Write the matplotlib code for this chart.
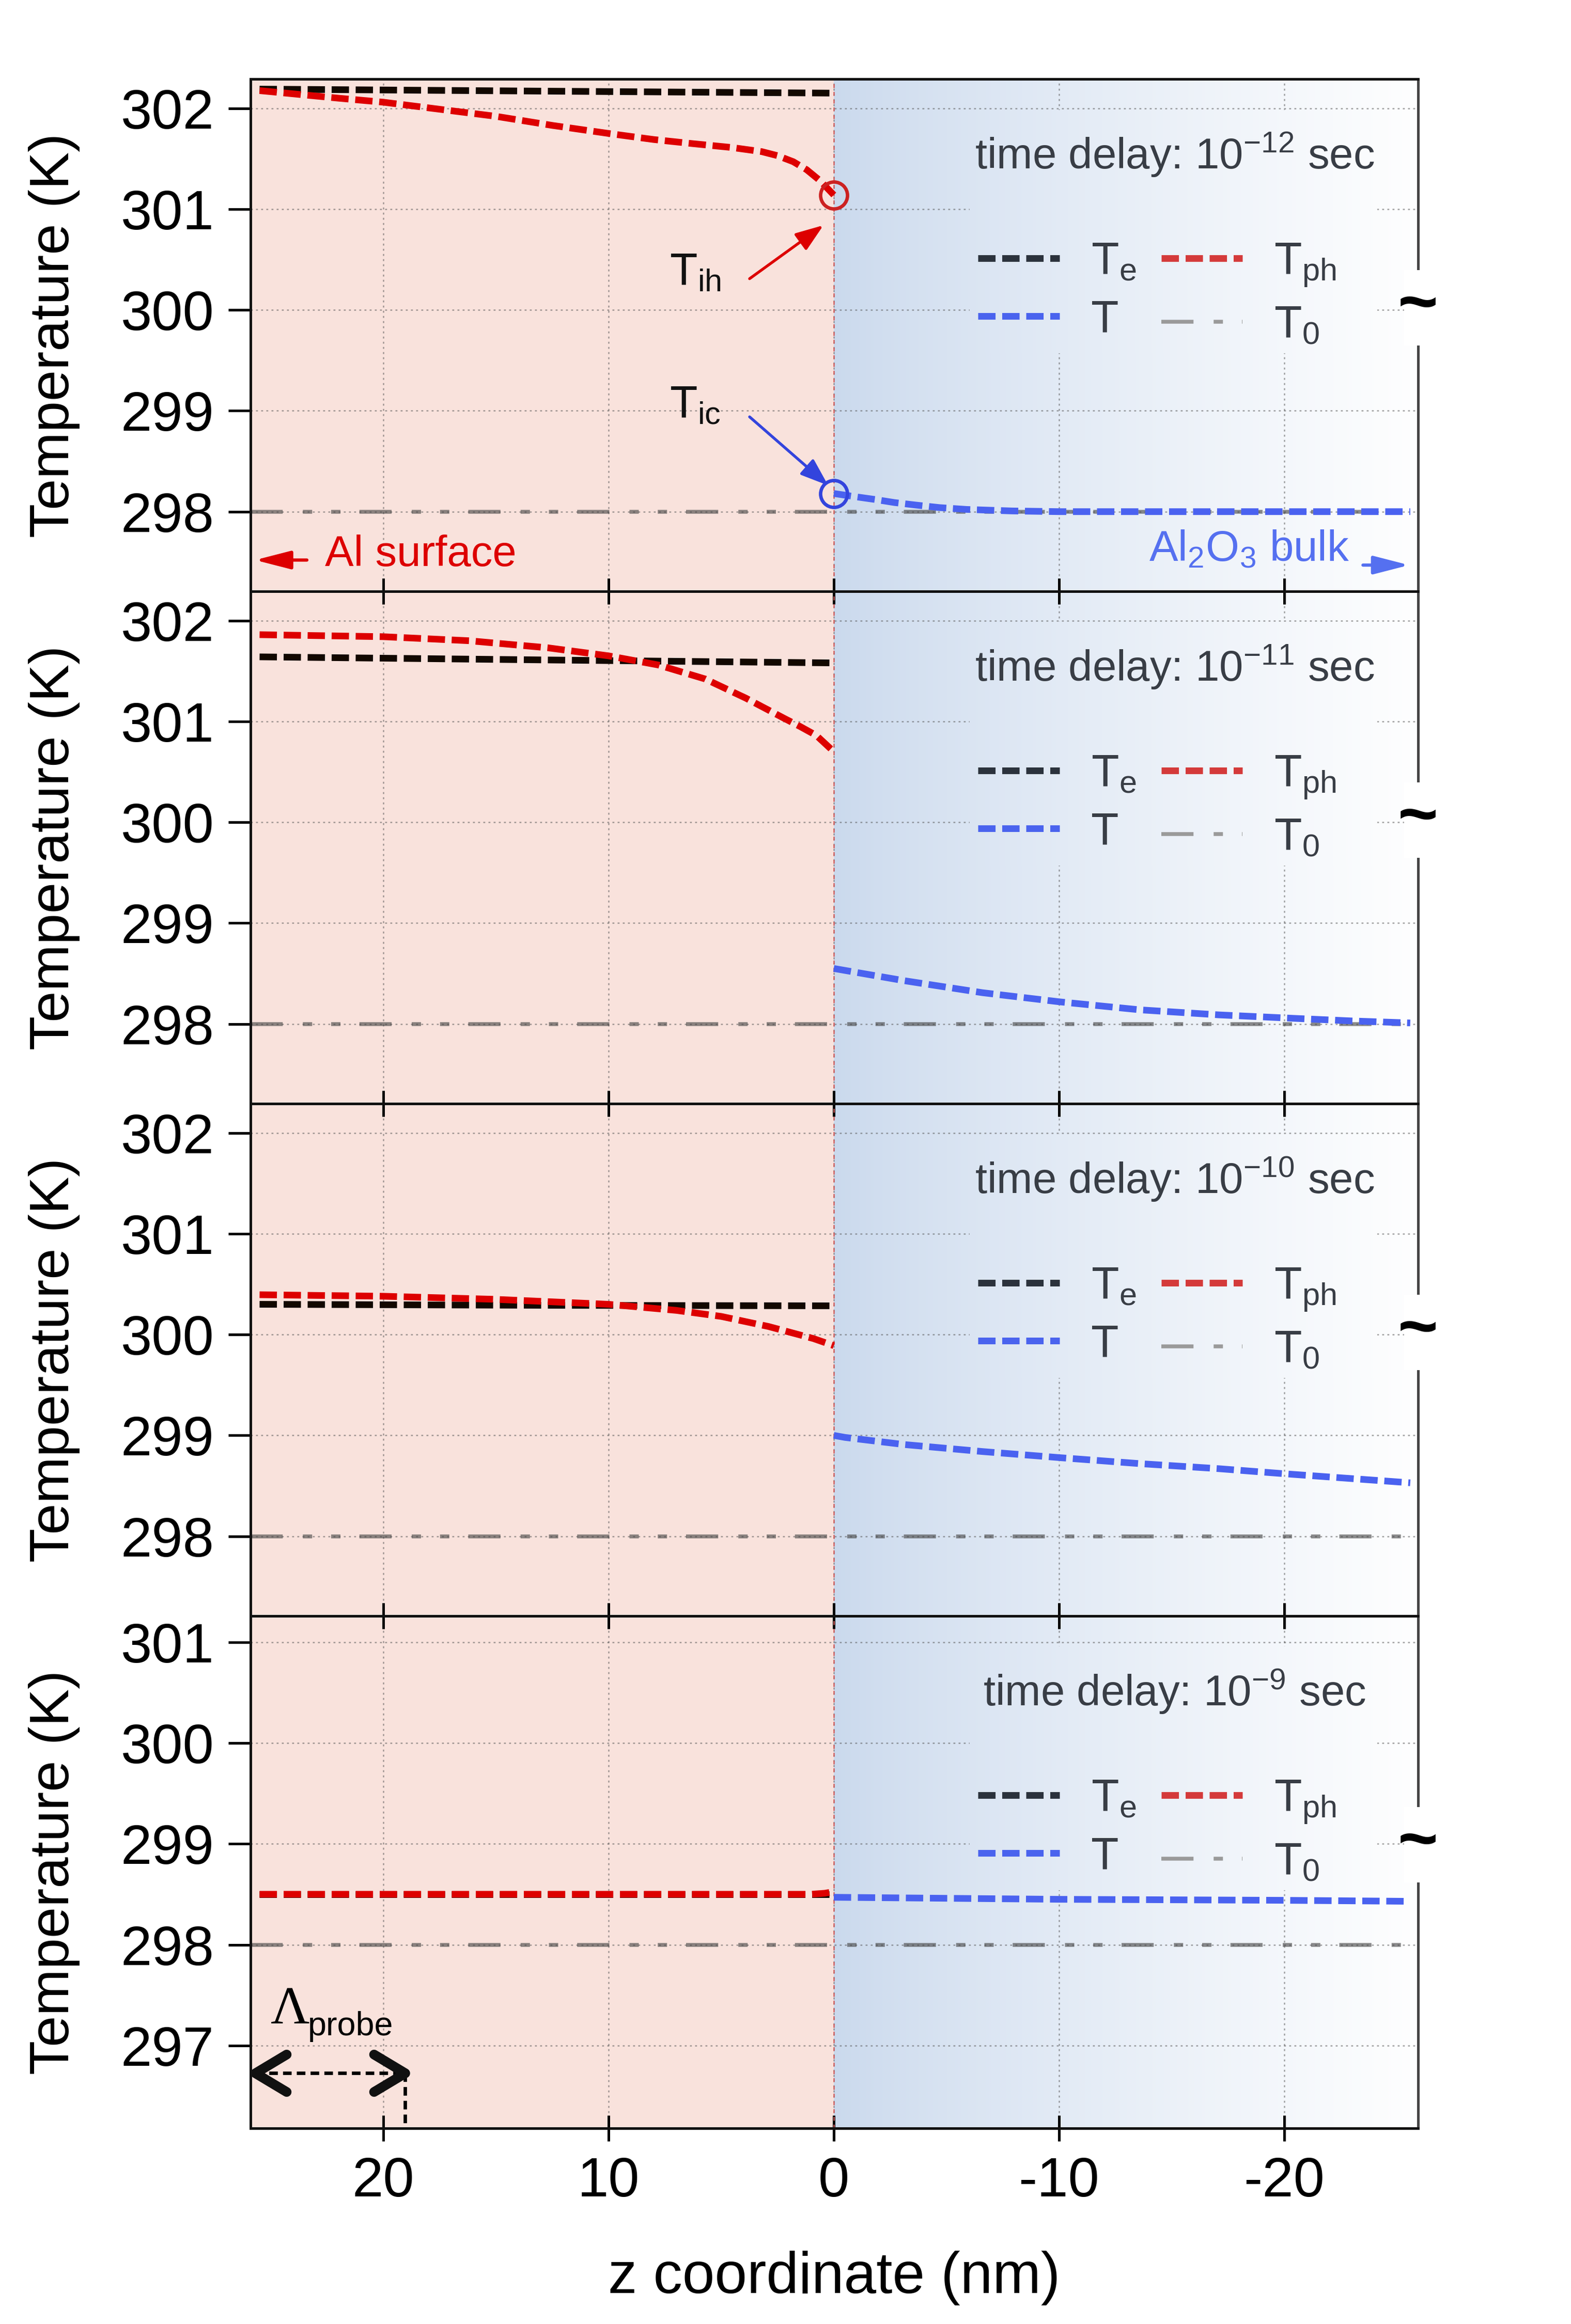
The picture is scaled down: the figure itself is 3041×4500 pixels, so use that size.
import numpy as np
import matplotlib
matplotlib.use("Agg")
import matplotlib.pyplot as plt
from matplotlib.lines import Line2D
from matplotlib.markers import MarkerStyle
from matplotlib.patches import Rectangle
from matplotlib.path import Path
from matplotlib.colors import to_rgb

plt.rcParams["font.family"] = ["Liberation Sans", "DejaVu Sans"]
plt.rcParams["mathtext.fontset"] = "custom"
plt.rcParams["mathtext.rm"] = "Liberation Sans"
plt.rcParams["mathtext.it"] = "Liberation Sans:italic"
plt.rcParams["mathtext.bf"] = "Liberation Sans:bold"

# ---------------- data ----------------
DELAY_EXP = ["-12", "-11", "-10", "-9"]
T_AMBIENT = 298.0

# 10^-12 s
z1_e = [25.5, 13.0, 0.0]
T1_e = [302.19, 302.17, 302.15]
z1_ph = [25.5, 22.0, 20.0, 17.5, 15.0, 12.5, 10.0, 8.0, 6.3, 4.5, 3.2, 2.5, 1.8, 1.2, 0.6, 0.0]
T1_ph = [302.175, 302.10, 302.06, 301.99, 301.92, 301.83, 301.75, 301.69, 301.65, 301.61,
         301.57, 301.53, 301.47, 301.39, 301.28, 301.14]
z1_b = [0.0, -0.9, -1.85, -2.7, -3.66, -4.7, -5.9, -7.9, -10.0, -15.0, -20.0, -25.6]
T1_b = [298.18, 298.15, 298.12, 298.09, 298.065, 298.04, 298.022, 298.007, 298.0, 298.0, 298.0, 298.0]

# 10^-11 s
z2_e = [25.5, 13.0, 0.0]
T2_e = [301.64, 301.61, 301.58]
z2_ph = [25.5, 20.0, 16.2, 12.7, 10.0, 7.8, 5.7, 3.9, 2.2, 1.5, 0.77, 0.0]
T2_ph = [301.86, 301.84, 301.80, 301.73, 301.65, 301.56, 301.42, 301.23, 301.03, 300.95, 300.86, 300.70]
z2_b = [0.0, -3.1, -6.6, -10.0, -13.6, -17.1, -20.0, -23.0, -25.6]
T2_b = [298.55, 298.43, 298.31, 298.22, 298.14, 298.09, 298.06, 298.03, 298.01]

# 10^-10 s
z3_e = [25.5, 13.0, 0.0]
T3_e = [300.30, 300.29, 300.285]
z3_ph = [25.5, 20.0, 15.1, 10.0, 7.0, 5.0, 2.9, 0.9, 0.0]
T3_ph = [300.395, 300.38, 300.35, 300.30, 300.24, 300.18, 300.08, 299.96, 299.89]
z3_b = [0.0, -0.5, -3.1, -6.6, -10.0, -13.6, -17.1, -20.0, -25.6]
T3_b = [299.0, 298.98, 298.91, 298.84, 298.78, 298.72, 298.67, 298.62, 298.53]

# 10^-9 s
z4_e = [25.5, 0.0]
T4_e = [298.50, 298.50]
z4_ph = [25.5, 13.0, 1.0, 0.4, 0.0]
T4_ph = [298.50, 298.50, 298.50, 298.51, 298.525]
z4_b = [0.0, -10.0, -20.0, -25.6]
T4_b = [298.47, 298.45, 298.44, 298.43]

PANELS = [(z1_e, T1_e, z1_ph, T1_ph, z1_b, T1_b),
          (z2_e, T2_e, z2_ph, T2_ph, z2_b, T2_b),
          (z3_e, T3_e, z3_ph, T3_ph, z3_b, T3_b),
          (z4_e, T4_e, z4_ph, T4_ph, z4_b, T4_b)]

YLIMS = [(297.21, 302.29), (297.21, 302.29), (297.21, 302.29), (296.18, 301.26)]
YTICKS = [[298, 299, 300, 301, 302]] * 3 + [[297, 298, 299, 300, 301]]
XTICKS = [20, 10, 0, -10, -20]
XLIM = (25.9, -25.95)

# probe depth marker (panel 4)
PROBE_FROM, PROBE_TO, PROBE_T = 25.7, 19.04, 296.73

# ---------------- style ----------------
C_E, C_PH, C_B, C_0 = "#120800", "#dd0000", "#4a62f0", "#404040"
LEG_COLORS = ["#2b323c", "#4a63ee", "#d43a3a", "#9a9a9a"]
LW = 3.1
DASH = (0, (2.6, 1.0))
LW0 = 1.8
DASHDOT = (0, (8.3, 5.2, 2.4, 4.9, 2.4, 4.9))
TXT = "#383d45"
PINK = "#f9e2dc"

grad = np.linspace(0, 1, 256) ** 0.8
c0 = np.array(to_rgb("#cad9ed"))
rgb = c0[None, :] * (1 - grad[:, None]) + np.ones(3)[None, :] * grad[:, None]
GRAD_IMG = rgb[None, :, :]

fig = plt.figure(figsize=(3041 / 300, 4500 / 300), dpi=300)
left, width, height, top = 0.1595, 0.7432, 0.22044, 0.966

axes = []
for i, (ze, te, zp, tp, zb, tb) in enumerate(PANELS):
    ax = fig.add_axes([left, top - height * (i + 1), width, height])
    axes.append(ax)
    y0, y1 = YLIMS[i]

    # background: Al side pink, Al2O3 side gradient
    ax.axvspan(0, 30, color=PINK, lw=0, zorder=0)
    ax.imshow(GRAD_IMG, extent=[0, -26.5, y0 - 1, y1 + 1], aspect="auto",
              interpolation="bilinear", zorder=0)
    # same gradient again over the grid, behind title/legend
    mask = ax.imshow(GRAD_IMG, extent=[0, -26.5, y0 - 1, y1 + 1], aspect="auto",
                     interpolation="bilinear", zorder=0.7)
    mask.set_clip_path(Rectangle((0.616, 0.465), 0.349, 0.475, transform=ax.transAxes))

    ax.set_axisbelow(True)
    ax.grid(True, color="#555555", alpha=0.55, lw=0.6, ls=(0, (1.5, 2.5)))
    ax.axvline(0, color="#d06060", lw=0.6, ls=(0, (3, 3)), zorder=0.6)

    ax.axhline(T_AMBIENT, color=C_0, alpha=0.6, lw=LW0, ls=DASHDOT, zorder=2)
    ax.plot(ze, te, color=C_E, lw=LW, ls=DASH, zorder=3)
    ax.plot(zp, tp, color=C_PH, lw=LW, ls=DASH, zorder=3)
    ax.plot(zb, tb, color=C_B, lw=LW, ls=DASH, zorder=3)

    ax.set_xlim(*XLIM)
    ax.set_ylim(y0, y1)
    ax.set_xticks(XTICKS)
    ax.set_yticks(YTICKS[i])
    ax.set_xticklabels([str(v) for v in XTICKS])
    ax.tick_params(axis="x", direction="inout", length=12, width=1.2, labelsize=26,
                   pad=7, bottom=True, top=(i > 0), labelbottom=(i == 3))
    ax.tick_params(axis="y", direction="out", length=10.4, width=1.2, labelsize=26, pad=6.5)
    for s in ["left", "top", "bottom"]:
        ax.spines[s].set_linewidth(1.2)
        ax.spines[s].set_color("#111111")
    ax.spines["right"].set_linewidth(1.2)
    ax.spines["right"].set_color("#444444")

    ax.set_ylabel("Temperature (K)", fontsize=26)
    ax.yaxis.set_label_coords(-0.146, 0.5)

    # title and legend
    ax.text(0.7916, 0.825, r"time delay: 10$^{\mathrm{%s}}$ sec" % DELAY_EXP[i],
            transform=ax.transAxes, ha="center", va="baseline", fontsize=20, color=TXT)
    handles = [Line2D([], [], color=LEG_COLORS[0], lw=LW, ls=DASH),
               Line2D([], [], color=LEG_COLORS[1], lw=LW, ls=DASH),
               Line2D([], [], color=LEG_COLORS[2], lw=LW, ls=DASH),
               Line2D([], [], color=LEG_COLORS[3], lw=LW0, ls=DASHDOT)]
    labels = [r"T$_{\mathrm{e}}$", r"T", r"T$_{\mathrm{ph}}$", r"T$_{\mathrm{0}}$"]
    leg = ax.legend(handles, labels, ncol=2, loc="center left", bbox_to_anchor=(0.623, 0.58),
                    frameon=False, fontsize=21, handlelength=1.8, handletextpad=0.7,
                    columnspacing=0.55, labelspacing=0.35, borderpad=0, borderaxespad=0)
    for t in leg.get_texts():
        t.set_color(TXT)

    # axis break on the right
    ax.add_patch(Rectangle((0.988, 0.48), 0.03, 0.147, transform=ax.transAxes,
                           facecolor="white", edgecolor="none", zorder=5, clip_on=False))
    ax.text(1.0, 0.555, "~", transform=ax.transAxes, fontsize=32, fontweight="bold",
            ha="center", va="center", zorder=6, clip_on=False)

# panel 1 annotations
ax = axes[0]
ax.plot(z1_ph[-1], T1_ph[-1], "o", mfc="none", mec="#cc2222", ms=12.5, mew=1.6, zorder=4)
ax.plot(z1_b[0], T1_b[0], "o", mfc="none", mec="#3344dd", ms=12.5, mew=1.6, zorder=4)
ax.annotate("", xy=(0.46, 300.84), xytext=(3.74, 300.31),
            arrowprops=dict(arrowstyle="-|>,head_length=0.55,head_width=0.2", color="#dd0000",
                            lw=1.3, mutation_scale=20, shrinkA=0, shrinkB=0))
ax.annotate("", xy=(0.25, 298.26), xytext=(3.74, 298.94),
            arrowprops=dict(arrowstyle="-|>,head_length=0.55,head_width=0.2", color="#3344dd",
                            lw=1.3, mutation_scale=20, shrinkA=0, shrinkB=0))
ax.text(7.3, 300.25, r"T$_{\mathrm{ih}}$", fontsize=21, ha="left", va="baseline", color="#111111")
ax.text(7.3, 298.93, r"T$_{\mathrm{ic}}$", fontsize=21, ha="left", va="baseline", color="#111111")

ax.annotate("", xy=(25.7, 297.52), xytext=(23.4, 297.52),
            arrowprops=dict(arrowstyle="-|>,head_length=0.7,head_width=0.18", color="#dd0000",
                            lw=1.5, mutation_scale=20, shrinkA=0, shrinkB=0))
ax.text(22.6, 297.46, "Al surface", color="#dd0000", fontsize=20, ha="left", va="baseline")
ax.annotate("", xy=(-25.55, 297.47), xytext=(-23.5, 297.47),
            arrowprops=dict(arrowstyle="-|>,head_length=0.7,head_width=0.18", color="#5570f0",
                            lw=1.5, mutation_scale=20, shrinkA=0, shrinkB=0))
ax.text(-14.0, 297.51, r"Al$_{\mathrm{2}}$O$_{\mathrm{3}}$ bulk", color="#5570f0", fontsize=20,
        ha="left", va="baseline")

# panel 4: probe depth
ax = axes[3]
ax.plot([PROBE_FROM, PROBE_TO], [PROBE_T, PROBE_T], color="k", lw=1.6, ls=(0, (2.5, 1.5)), zorder=4)
ax.plot([PROBE_TO, PROBE_TO], [PROBE_T, YLIMS[3][0]], color="k", lw=1.6, ls=(0, (2.5, 1.5)), zorder=4)
left_head = MarkerStyle(Path([(1, 0.6), (0, 0), (1, -0.6)]), capstyle="round", joinstyle="round")
right_head = MarkerStyle(Path([(-1, 0.6), (0, 0), (-1, -0.6)]), capstyle="round", joinstyle="round")
ax.plot(PROBE_FROM, PROBE_T, marker=left_head, ms=29, mew=4.5, mfc="none", mec="#111111", zorder=5)
ax.plot(PROBE_TO, PROBE_T, marker=right_head, ms=29, mew=4.5, mfc="none", mec="#111111", zorder=5)
ax.text(25.0, 297.22, "\u039b", family="Liberation Serif", fontsize=25, va="baseline", ha="left")
ax.text(23.37, 297.10, "probe", fontsize=15.5, va="baseline", ha="left")

ax.set_xlabel("z coordinate (nm)", fontsize=27, va="baseline")
ax.xaxis.set_label_coords(0.5, -0.3216)

fig.savefig("out.png", dpi=300)
